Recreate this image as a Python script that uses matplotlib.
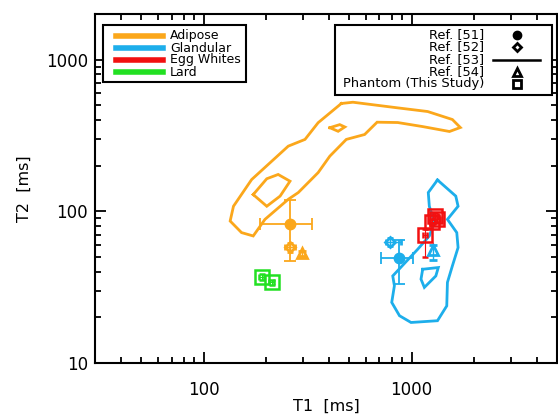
import matplotlib
matplotlib.use("Agg")
import matplotlib.pyplot as plt
from matplotlib.lines import Line2D
from matplotlib.patches import Rectangle
import numpy as np

plt.rcParams['font.family'] = ['DejaVu Sans']

# ---------------- data ----------------
tissues = ["Adipose", "Glandular", "Egg Whites", "Lard"]
colors = {"Adipose": "#FBA71B", "Glandular": "#1DAEEB", "Egg Whites": "#F21010", "Lard": "#22E022"}

# contour outlines (T1 [ms], T2 [ms])
adipose_outer_T1 = [459, 522, 857, 1194, 1570, 1714, 1520, 1130, 857, 682, 594, 485, 404, 355, 285, 255,
                    197, 173, 152, 134, 139, 170, 255, 307, 355, 459]
adipose_outer_T2 = [514, 524, 481, 455, 403, 357, 336, 362, 385, 387, 321, 298, 231, 180, 133, 120,
                    88.5, 68.8, 72.4, 86.3, 108, 162, 269, 298, 384, 514]
adipose_hole1_T1 = [173, 201, 233, 260, 228, 201, 173]
adipose_hole1_T2 = [129, 108, 126, 158, 175, 164, 129]
adipose_hole2_T1 = [404, 451, 477, 443, 404]
adipose_hole2_T2 = [356, 373, 360, 337, 356]

gland_outer_T1 = [1331, 1630, 1672, 1486, 1648, 1672, 1570, 1486, 1475, 1331, 993, 874, 802, 826, 811,
                  1069, 1216, 1286, 1216, 1202, 1331]
gland_outer_T2 = [161, 126, 108, 88.5, 72.4, 57.7, 43.7, 34.0, 23.8, 19.0, 18.5, 20.5, 25.1, 32.3, 37.5,
                  56.2, 68.8, 84.3, 108, 133, 161]
gland_hole_T1 = [1130, 1343, 1307, 1151, 1109, 1130]
gland_hole_T2 = [41.5, 42.6, 37.5, 31.5, 35.7, 41.5]

# literature values: [Adipose, Glandular]
ref51_T1 = [260, 867]
ref51_T2 = [83, 49]
ref51_T1_lo = [187, 711]
ref51_T1_hi = [332, 1020]
ref51_T2_lo = [47, 33]
ref51_T2_hi = [119, 65]

ref52_T1 = [260, 790]
ref52_T2 = [58, 63]
ref52_T1_lo = [245, 755]
ref52_T1_hi = [275, 890]
ref52_T2_lo = [54, 59]
ref52_T2_hi = [62, 67]

ref54_T1 = [298, 1268]
ref54_T2 = [53, 56]
ref54_T2_lo = [51, 48]
ref54_T2_hi = [55, 60]

# phantom (this study)
egg_T1 = [1161, 1257, 1330, 1300]
egg_T2 = [70, 85, 89, 93]
egg_T2_lo = [50, 81, 85, 89]
egg_T2_hi = [76, 89, 93, 97]
lard_T1 = [190, 212]
lard_T2 = [37, 34]

# ---------------- figure ----------------
fig = plt.figure(figsize=(5.58, 4.15), dpi=100)
ax = fig.add_axes([95 / 558, (415 - 363) / 415, (557 - 95) / 558, (363 - 14) / 415])
ax.set_xscale('log')
ax.set_yscale('log')
ax.set_xlim(30, 5000)
ax.set_ylim(10, 2000)

lw = 2.0
ca, cg = colors["Adipose"], colors["Glandular"]
for xs, ys in [(adipose_outer_T1, adipose_outer_T2), (adipose_hole1_T1, adipose_hole1_T2),
               (adipose_hole2_T1, adipose_hole2_T2)]:
    ax.plot(xs, ys, color=ca, lw=lw, solid_joinstyle='miter')
for xs, ys in [(gland_outer_T1, gland_outer_T2), (gland_hole_T1, gland_hole_T2)]:
    ax.plot(xs, ys, color=cg, lw=lw, solid_joinstyle='miter')

pcols = [ca, cg]
for i in range(2):
    c = pcols[i]
    ax.errorbar([ref51_T1[i]], [ref51_T2[i]],
                xerr=[[ref51_T1[i] - ref51_T1_lo[i]], [ref51_T1_hi[i] - ref51_T1[i]]],
                yerr=[[ref51_T2[i] - ref51_T2_lo[i]], [ref51_T2_hi[i] - ref51_T2[i]]],
                fmt='o', color=c, ms=7.5, elinewidth=1.3, capsize=4, capthick=1.3)
    ax.errorbar([ref52_T1[i]], [ref52_T2[i]],
                xerr=[[ref52_T1[i] - ref52_T1_lo[i]], [ref52_T1_hi[i] - ref52_T1[i]]],
                yerr=[[ref52_T2[i] - ref52_T2_lo[i]], [ref52_T2_hi[i] - ref52_T2[i]]],
                fmt='D', color=c, mfc='none', mew=2, ms=5.5, elinewidth=1.0, capsize=2, capthick=1.0)
    ax.errorbar([ref54_T1[i]], [ref54_T2[i]],
                yerr=[[ref54_T2[i] - ref54_T2_lo[i]], [ref54_T2_hi[i] - ref54_T2[i]]],
                fmt='^', color=c, mfc='none', mew=2, ms=7, elinewidth=1.0, capsize=3, capthick=1.0)

ce = colors["Egg Whites"]
ax.errorbar(egg_T1, egg_T2,
            yerr=[np.array(egg_T2) - np.array(egg_T2_lo), np.array(egg_T2_hi) - np.array(egg_T2)],
            xerr=[np.array(egg_T1) * 0.025, np.array(egg_T1) * 0.025],
            fmt='s', color=ce, mfc='none', mew=1.8, ms=10, elinewidth=0.8, capsize=2.5, capthick=0.8)
cl = colors["Lard"]
ax.errorbar(lard_T1, lard_T2, xerr=[np.array(lard_T1) * 0.025, np.array(lard_T1) * 0.025],
            yerr=[np.array(lard_T2) * 0.04, np.array(lard_T2) * 0.04],
            fmt='s', color=cl, mfc='none', mew=1.8, ms=10, elinewidth=0.8, capsize=2, capthick=0.8)

# axes styling
for s in ax.spines.values():
    s.set_linewidth(1.5)
ax.tick_params(which='both', direction='in', top=True, right=True, width=1.3)
ax.tick_params(which='major', length=8, labelsize=12, pad=13)
ax.tick_params(axis='y', which='major', pad=5)
ax.tick_params(which='minor', length=4)
ax.set_xticks([100, 1000])
ax.set_xticklabels(['100', '1000'])
ax.set_yticks([10, 100, 1000])
ax.set_yticklabels(['10', '100', '1000'])
ax.set_xlabel('T1  [ms]', fontsize=11.5, labelpad=0)
ax.set_ylabel('T2  [ms]', fontsize=11.5, labelpad=10)

# ---------------- legends ----------------
def axc(px, py):
    return (px - 95) / 462, (363 - py) / 349

T = ax.transAxes
x0, y0 = axc(103, 82)
x1, y1 = axc(246, 25)
ax.add_patch(Rectangle((x0, y0), x1 - x0, y1 - y0, transform=T, fill=True, fc='white',
                       ec='black', lw=1.5, zorder=5))
rows = [36, 48, 60, 72]
for name, py in zip(tissues, rows):
    lx0, ly = axc(116, py)
    lx1, _ = axc(163, py)
    ax.add_line(Line2D([lx0, lx1], [ly, ly], transform=T, color=colors[name], lw=4, zorder=6))
    tx, _ = axc(170, py)
    ax.text(tx, ly, name, transform=T, fontsize=9, va='center', ha='left', zorder=6)

x0, y0 = axc(335, 95)
x1, y1 = axc(552, 25)
ax.add_patch(Rectangle((x0, y0), x1 - x0, y1 - y0, transform=T, fill=True, fc='white',
                       ec='black', lw=1.5, zorder=5))
ref_labels = ["Ref. [51]", "Ref. [52]", "Ref. [53]", "Ref. [54]", "Phantom (This Study)"]
ref_rows = [35, 47, 60, 72, 84]
ref_markers = ['o', 'D', None, '^', 's']
for lab, py, mk in zip(ref_labels, ref_rows, ref_markers):
    tx, ty = axc(484, py)
    ax.text(tx, ty, lab, transform=T, fontsize=9.4, va='center', ha='right', zorder=6)
    mx, _ = axc(517, py)
    if mk is None:
        a, _ = axc(493, py)
        b, _ = axc(540, py)
        ax.add_line(Line2D([a, b], [ty, ty], transform=T, color='black', lw=1.8, zorder=6))
    elif mk == 'o':
        ax.add_line(Line2D([mx], [ty], transform=T, marker='o', ms=6, color='black', zorder=6))
    else:
        ax.add_line(Line2D([mx], [ty], transform=T, marker=mk, ms=6 if mk != 'D' else 4.5,
                           mfc='none', mec='black', mew=2, color='black', zorder=6))

fig.savefig('out.png', dpi=100)
